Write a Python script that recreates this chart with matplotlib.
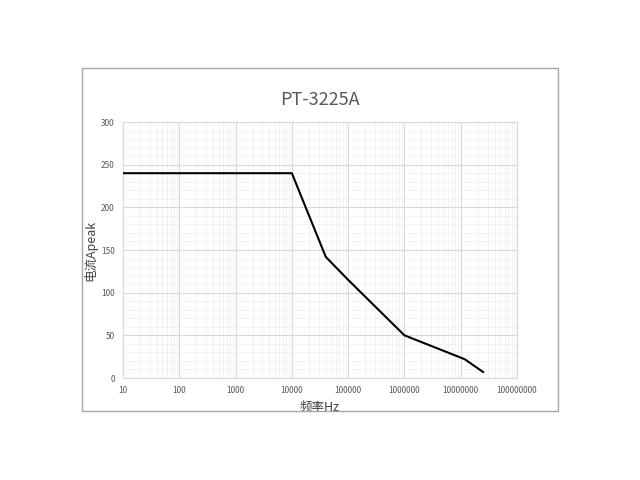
import matplotlib
matplotlib.use('Agg')
import matplotlib.pyplot as plt
from matplotlib.patches import Rectangle
from matplotlib.ticker import LogLocator, FixedLocator, MultipleLocator, FuncFormatter

plt.rcParams['font.family'] = ['Noto Sans CJK SC', 'DejaVu Sans']

# values
freq_hz = [10, 10000, 40000, 100000, 1000000, 11800000, 25000000]
current_apeak = [240, 240, 142, 115, 50, 22, 7]
x_ticks = [10, 100, 1000, 10000, 100000, 1000000, 10000000, 100000000]
y_ticks = [0, 50, 100, 150, 200, 250, 300]

fig = plt.figure(figsize=(6.4, 4.8), dpi=100)

# outer chart frame (Excel style)
fig.patches.append(Rectangle((82 / 640, 1 - 411 / 480), (558 - 82) / 640, (411 - 68) / 480,
                             transform=fig.transFigure, fill=False,
                             edgecolor='#a6a6a6', linewidth=1.0))

ax = fig.add_axes([123 / 640, 1 - 378 / 480, (517 - 123) / 640, (378 - 122) / 480])
ax.plot(freq_hz, current_apeak, color='black', linewidth=1.5, zorder=3)

ax.set_xscale('log')
ax.set_xlim(10, 1e8)
ax.set_ylim(0, 300)
ax.xaxis.set_major_locator(FixedLocator(x_ticks))
ax.xaxis.set_minor_locator(LogLocator(base=10, subs=range(2, 10), numticks=100))
ax.xaxis.set_major_formatter(FuncFormatter(lambda v, p: '%d' % round(v)))
ax.yaxis.set_major_locator(FixedLocator(y_ticks))
ax.yaxis.set_minor_locator(MultipleLocator(10))

ax.grid(which='major', color='#d9d9d9', linewidth=0.8)
ax.grid(which='minor', color='#f0f0f0', linewidth=0.6)
ax.set_axisbelow(True)

for s in ax.spines.values():
    s.set_color('#d9d9d9')
    s.set_linewidth(0.8)

ax.tick_params(which='both', length=0, labelsize=6, colors='#595959', pad=6)

ax.set_title('PT-3225A', fontsize=13, color='#595959', pad=12)
ax.set_xlabel('频率Hz', fontsize=9, color='#404040')
ax.xaxis.set_label_coords(0.5, -0.09)
ax.set_ylabel('电流Apeak', fontsize=9, color='#404040')
ax.yaxis.set_label_coords(-0.065, 0.5)

fig.savefig('out.png', dpi=100)
